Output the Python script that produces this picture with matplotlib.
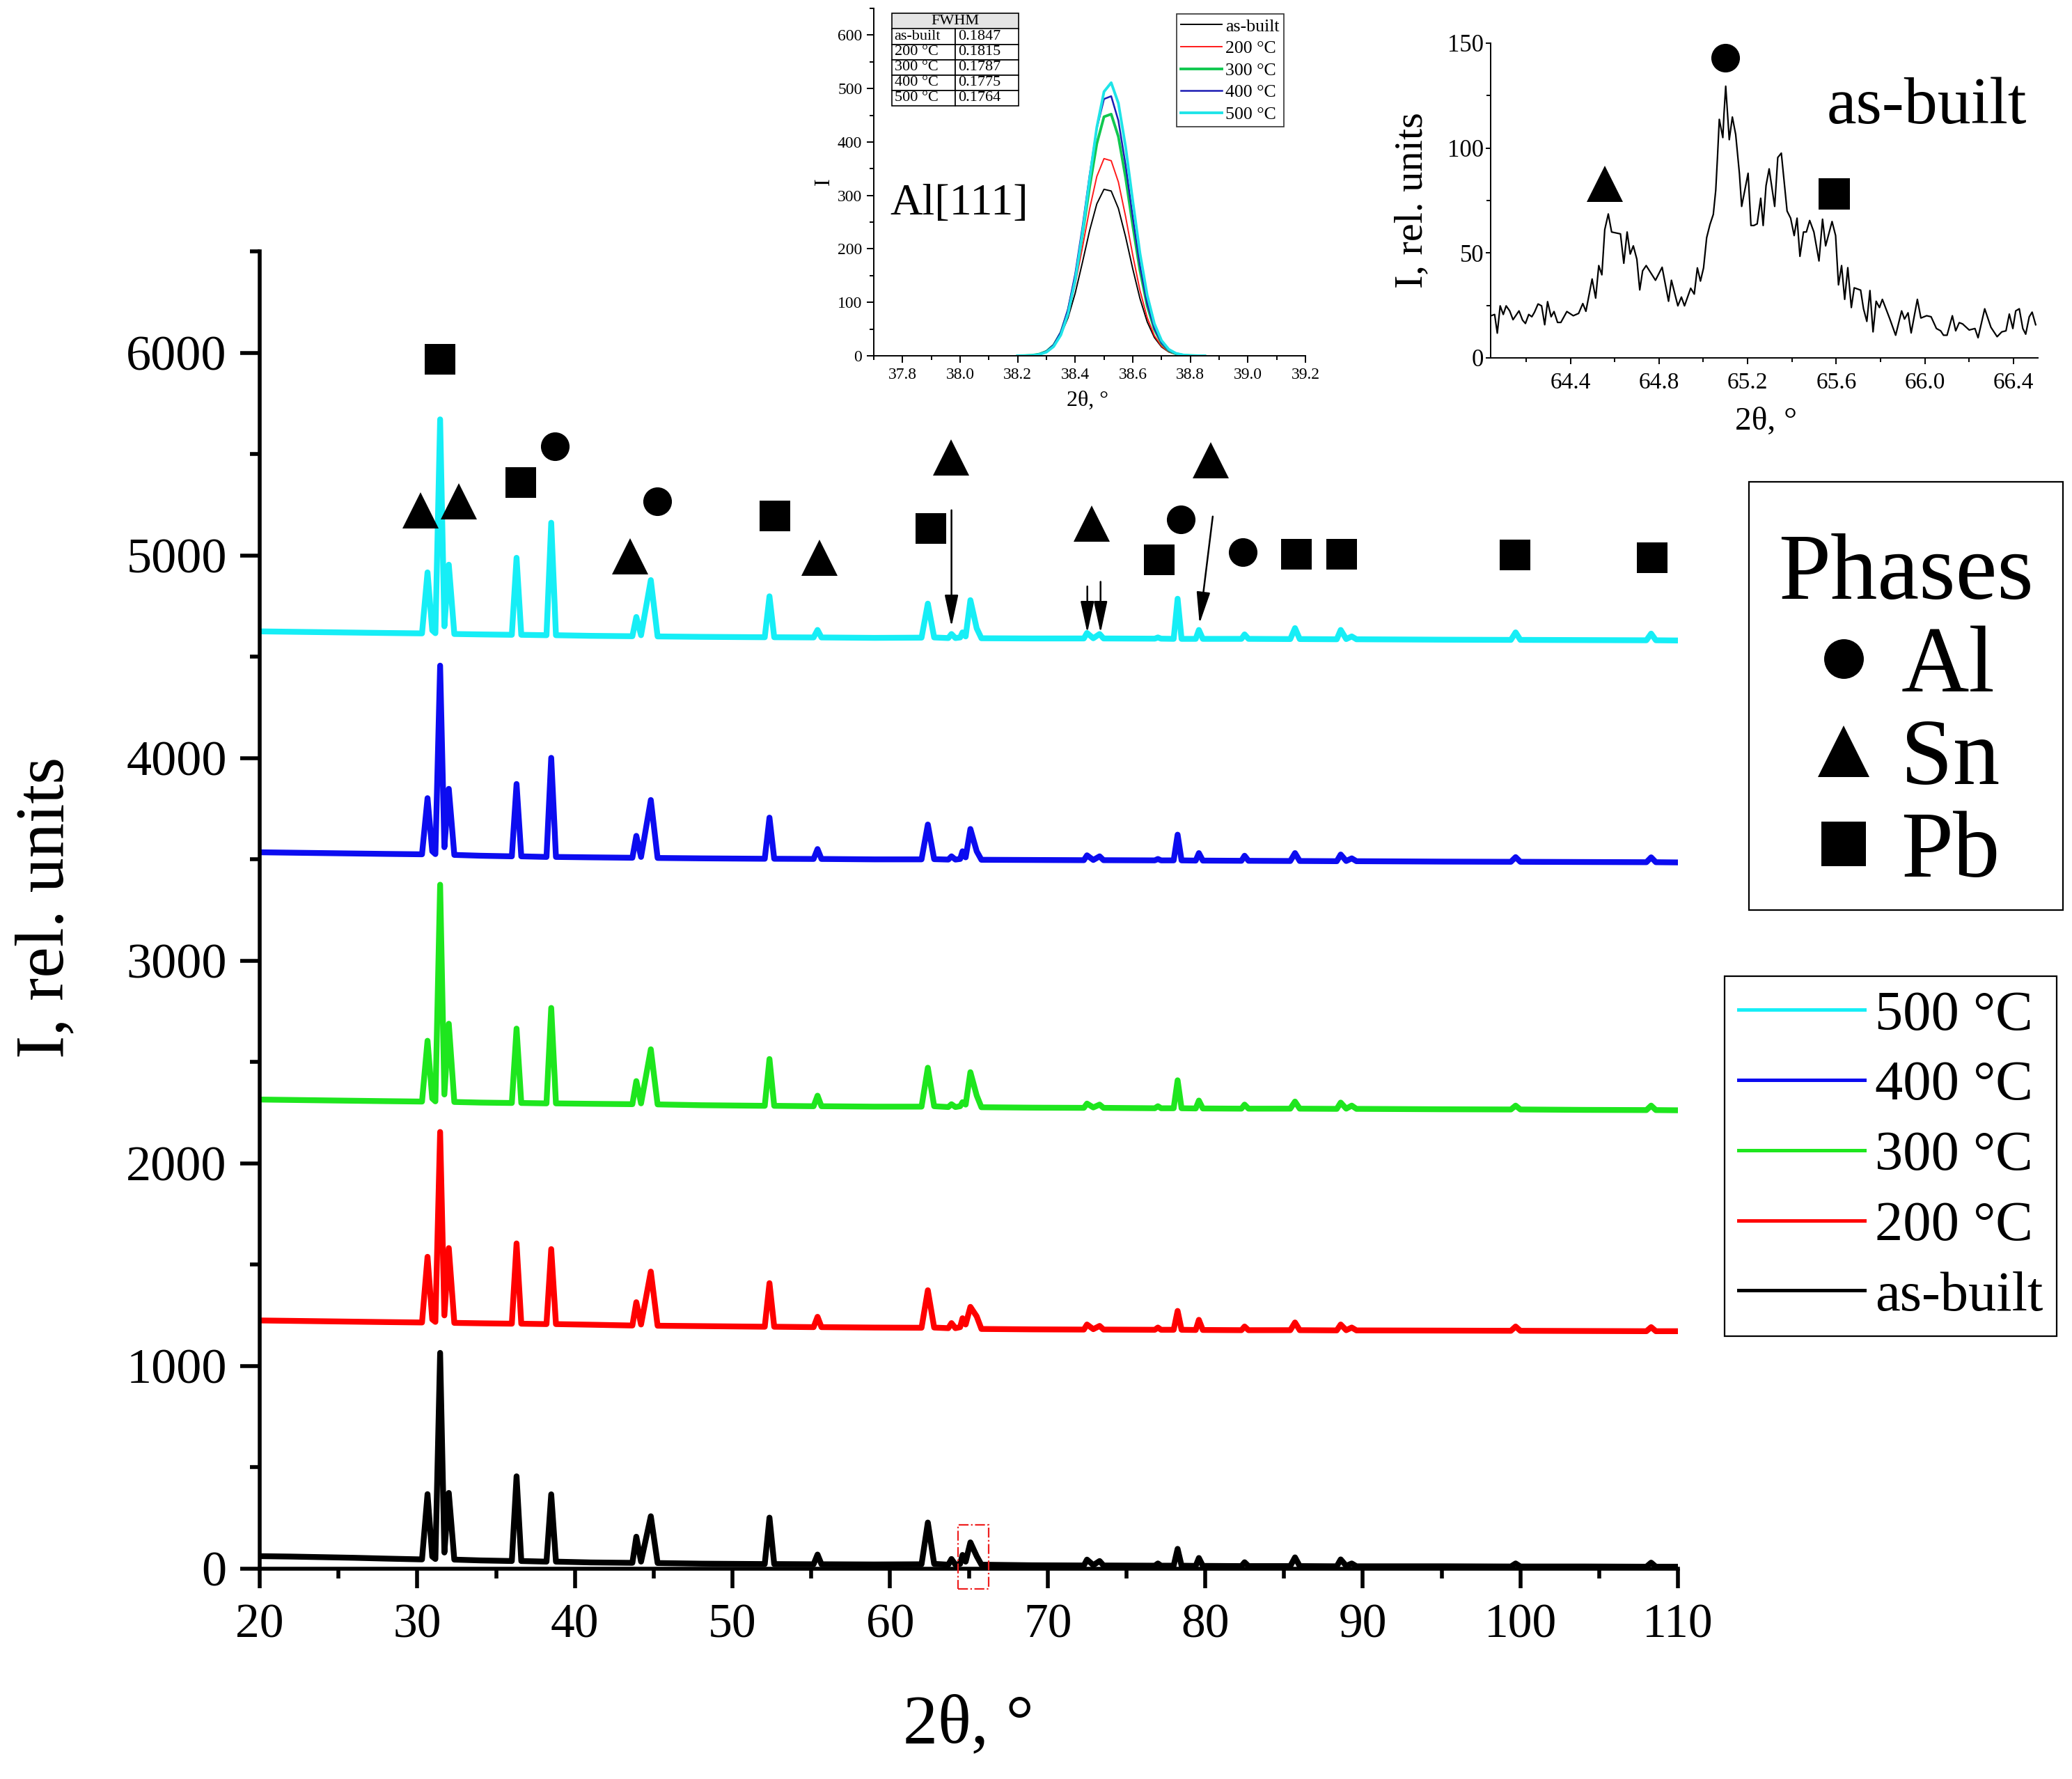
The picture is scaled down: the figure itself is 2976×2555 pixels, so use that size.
import matplotlib
matplotlib.use("Agg")
import matplotlib.pyplot as plt
from matplotlib.lines import Line2D
from matplotlib.patches import Rectangle
from matplotlib.ticker import MultipleLocator

plt.rcParams['font.family'] = ['Liberation Serif', 'DejaVu Serif']

# ---------------- main XRD patterns ----------------
two_theta = [20.0, 22.0, 24.0, 26.0, 28.0, 30.3, 30.65, 30.95, 31.15, 31.45,
             31.72, 32.0, 32.35, 34.0, 36.0, 36.3, 36.6, 38.2, 38.5, 38.8,
             41.0, 43.65, 43.9, 44.2, 44.82, 45.25, 48.0, 52.05, 52.35, 52.65,
             55.15, 55.4, 55.65, 59.0, 62.0, 62.4, 62.8, 63.7, 63.9, 64.15,
             64.45, 64.6, 64.8, 65.1, 65.5, 65.8, 69.0, 72.3, 72.5, 72.9,
             73.3, 73.55, 76.8, 77.0, 77.2, 78.0, 78.25, 78.5, 79.4, 79.6,
             79.85, 82.3, 82.5, 82.75, 85.4, 85.7, 86.0, 88.35, 88.6, 88.95,
             89.3, 89.6, 95.0, 99.4, 99.7, 100.0, 104.0, 108.0, 108.3, 108.6,
             110.0]
i_as_built = [62, 60, 57, 54, 50, 46, 368, 60, 48, 1065,
              80, 374, 45, 41, 38, 456, 38, 35, 367, 35,
              31, 29, 158, 35, 259, 28, 25, 23, 252, 23,
              22, 70, 22, 21, 22, 228, 24, 20, 48, 20,
              24, 68, 35, 130, 62, 20, 17, 16, 45, 18,
              38, 16, 15, 26, 15, 15, 98, 15, 14, 53,
              14, 13, 32, 13, 13, 56, 13, 12, 46, 14,
              26, 12, 12, 11, 26, 11, 11, 10, 30, 10,
              10]
i_200 = [1225, 1223, 1221, 1219, 1217, 1215, 1539, 1230, 1218, 2155,
         1250, 1582, 1213, 1211, 1209, 1605, 1209, 1207, 1577, 1207,
         1204, 1200, 1315, 1205, 1466, 1199, 1197, 1194, 1409, 1194,
         1192, 1243, 1192, 1190, 1189, 1374, 1190, 1187, 1212, 1187,
         1192, 1236, 1205, 1292, 1245, 1183, 1181, 1180, 1205, 1182,
         1198, 1180, 1179, 1190, 1179, 1179, 1272, 1179, 1178, 1228,
         1178, 1177, 1195, 1177, 1177, 1215, 1177, 1176, 1205, 1177,
         1190, 1176, 1175, 1174, 1195, 1174, 1173, 1172, 1192, 1172,
         1172]
i_300 = [2315, 2313, 2311, 2309, 2307, 2305, 2605, 2320, 2306, 3375,
         2340, 2689, 2303, 2300, 2298, 2665, 2298, 2296, 2767, 2296,
         2294, 2292, 2406, 2296, 2563, 2291, 2287, 2284, 2515, 2284,
         2282, 2334, 2282, 2280, 2280, 2472, 2282, 2278, 2292, 2278,
         2282, 2302, 2290, 2450, 2335, 2277, 2275, 2274, 2295, 2276,
         2290, 2274, 2272, 2282, 2272, 2272, 2410, 2272, 2271, 2310,
         2271, 2270, 2290, 2270, 2270, 2305, 2270, 2269, 2300, 2270,
         2285, 2269, 2267, 2266, 2285, 2266, 2264, 2263, 2285, 2263,
         2262]
i_400 = [3535, 3533, 3531, 3529, 3527, 3525, 3802, 3540, 3526, 4456,
         3560, 3848, 3522, 3518, 3515, 3872, 3515, 3512, 4001, 3512,
         3510, 3508, 3616, 3512, 3793, 3507, 3505, 3503, 3706, 3503,
         3502, 3551, 3502, 3500, 3500, 3672, 3501, 3499, 3515, 3499,
         3502, 3540, 3510, 3650, 3540, 3498, 3497, 3496, 3520, 3497,
         3515, 3496, 3495, 3502, 3495, 3495, 3622, 3495, 3494, 3531,
         3494, 3493, 3518, 3493, 3492, 3531, 3492, 3491, 3524, 3492,
         3505, 3491, 3489, 3488, 3511, 3488, 3487, 3486, 3510, 3486,
         3485]
i_500 = [4625, 4623, 4621, 4619, 4617, 4615, 4916, 4630, 4616, 5671,
         4650, 4954, 4612, 4610, 4608, 4988, 4608, 4606, 5161, 4606,
         4603, 4601, 4696, 4606, 4878, 4600, 4598, 4596, 4798, 4596,
         4595, 4632, 4595, 4593, 4594, 4762, 4595, 4592, 4612, 4592,
         4595, 4620, 4600, 4779, 4640, 4591, 4590, 4590, 4617, 4591,
         4612, 4590, 4589, 4595, 4589, 4588, 4786, 4588, 4588, 4632,
         4588, 4588, 4610, 4588, 4587, 4641, 4587, 4586, 4632, 4587,
         4600, 4586, 4584, 4583, 4620, 4583, 4582, 4581, 4614, 4581,
         4580]
series_labels = ["as-built", "200 °C", "300 °C", "400 °C", "500 °C"]
series_colors = ["#000000", "#ff0000", "#1ee61e", "#0c0cf0", "#16eef6"]

# phase markers (main panel)
al_x = [38.72, 45.24, 78.47, 82.38]
al_y = [5538, 5266, 5177, 5016]
sn_x = [30.21, 32.64, 43.51, 55.53, 63.88, 72.80, 80.37]
sn_y = [5222, 5267, 4995, 4990, 5484, 5155, 5469]
pb_x = [31.45, 36.57, 52.71, 62.57, 77.10, 85.80, 88.66, 99.65, 108.36]
pb_y = [5966, 5361, 5194, 5134, 4977, 5007, 5007, 5002, 4990]

# arrows pointing to weak peaks
arrow_tail_x = [63.90, 72.52, 73.36, 80.48]
arrow_tail_y = [5223, 4847, 4870, 5192]
arrow_tip_x = [63.90, 72.52, 73.36, 79.64]
arrow_tip_y = [4648, 4617, 4617, 4663]

# zoomed region marker (dashed box)
zoom_box_x = [64.30, 66.25]
zoom_box_y = [-100, 215]

# ---------------- inset 1: Al[111] profiles ----------------
al111_theta = [38.200, 38.225, 38.250, 38.275, 38.300, 38.325, 38.350, 38.375, 38.400,
               38.425, 38.450, 38.475, 38.500, 38.525, 38.550, 38.575, 38.600, 38.625,
               38.650, 38.675, 38.700, 38.725, 38.750, 38.775, 38.800, 38.825, 38.850]
al111_as_built = [0.1, 0.4, 1.3, 3.5, 8.7, 19.4, 39.2, 71.3, 117.3, 174.5, 234.3, 284.2, 311.5,
                  308.3, 275.7, 222.7, 162.5, 107.1, 63.7, 34.3, 16.6, 7.3, 2.9, 1.0, 0.3, 0.1, 0.0]
al111_200 = [0.1, 0.4, 1.3, 3.6, 9.1, 20.9, 43.1, 80.2, 134.4, 202.5, 274.8, 335.5, 368.9,
             365.0, 325.1, 260.7, 188.1, 122.2, 71.5, 37.6, 17.8, 7.6, 2.9, 1.0, 0.3, 0.1, 0.0]
al111_300 = [0.1, 0.3, 1.0, 3.1, 8.2, 19.9, 42.9, 83.1, 144.6, 225.7, 316.0, 396.9, 447.2,
             452.1, 410.0, 333.6, 243.5, 159.5, 93.7, 49.4, 23.3, 9.9, 3.8, 1.3, 0.4, 0.1, 0.0]
al111_400 = [0.1, 0.3, 1.0, 3.1, 8.4, 20.4, 44.6, 87.3, 153.0, 240.2, 337.9, 425.7, 480.4,
             485.7, 439.9, 357.0, 259.5, 168.9, 98.5, 51.5, 24.1, 10.1, 3.8, 1.3, 0.4, 0.1, 0.0]
al111_500 = [0.1, 0.2, 0.8, 2.4, 6.9, 17.3, 39.0, 78.7, 141.9, 229.1, 330.9, 427.5, 494.1,
             510.9, 472.5, 391.1, 289.5, 191.7, 113.6, 60.2, 28.5, 12.1, 4.6, 1.6, 0.5, 0.1, 0.0]
al111_colors = ["#000000", "#ff1a1a", "#10c850", "#1c1cb4", "#1ee4e8"]
al111_widths = [0.7, 0.7, 1.4, 0.9, 1.4]
fwhm_labels = ["as-built", "200 °C", "300 °C", "400 °C", "500 °C"]
fwhm_values = ["0.1847", "0.1815", "0.1787", "0.1775", "0.1764"]

# ---------------- inset 2: as-built, 64-66.5 deg ----------------
scan_theta = [64.042, 64.058, 64.070, 64.083, 64.097, 64.110, 64.126, 64.141, 64.168, 64.184,
              64.197, 64.212, 64.226, 64.238, 64.254, 64.270, 64.284, 64.297, 64.313, 64.326,
              64.342, 64.357, 64.384, 64.413, 64.437, 64.456, 64.470, 64.498, 64.514, 64.528,
              64.542, 64.555, 64.571, 64.586, 64.626, 64.641, 64.656, 64.670, 64.684, 64.700,
              64.713, 64.726, 64.742, 64.784, 64.814, 64.843, 64.856, 64.885, 64.901, 64.915,
              64.943, 64.959, 64.973, 64.987, 65.001, 65.015, 65.030, 65.045, 65.056, 65.064,
              65.072, 65.088, 65.093, 65.101, 65.117, 65.131, 65.146, 65.163, 65.173, 65.202,
              65.215, 65.228, 65.243, 65.259, 65.270, 65.283, 65.297, 65.322, 65.336, 65.352,
              65.378, 65.394, 65.410, 65.423, 65.436, 65.452, 65.465, 65.480, 65.499, 65.522,
              65.538, 65.552, 65.581, 65.597, 65.610, 65.624, 65.638, 65.652, 65.668, 65.681,
              65.710, 65.723, 65.738, 65.752, 65.766, 65.780, 65.795, 65.808, 65.842, 65.868,
              65.895, 65.908, 65.924, 65.938, 65.966, 65.982, 66.008, 66.028, 66.052, 66.071,
              66.084, 66.100, 66.124, 66.139, 66.155, 66.170, 66.200, 66.226, 66.240, 66.270,
              66.298, 66.326, 66.347, 66.366, 66.381, 66.397, 66.410, 66.426, 66.442, 66.455,
              66.471, 66.484, 66.500]
scan_counts = [20.1, 20.7, 11.8, 24.8, 20.7, 24.8, 22.4, 18.2, 22.4, 18.0,
               16.4, 20.7, 19.6, 21.8, 25.7, 24.8, 15.8, 26.8, 19.6, 22.1,
               16.9, 16.9, 22.1, 20.1, 21.2, 25.9, 22.2, 37.6, 28.5, 44.0,
               39.6, 61.1, 68.6, 60.0, 59.1, 45.1, 60.0, 49.5, 53.4, 47.0,
               32.4, 41.5, 44.0, 37.0, 43.2, 27.0, 37.0, 24.8, 29.0, 24.8,
               33.2, 30.4, 42.9, 36.6, 42.9, 57.3, 63.6, 68.4, 79.9, 96.0,
               113.7, 105.0, 115.9, 129.5, 104.0, 114.8, 106.5, 87.7, 72.2, 88.0,
               63.1, 63.1, 63.9, 76.1, 63.1, 82.1, 90.1, 72.2, 95.5, 97.6,
               70.0, 66.6, 58.3, 66.6, 48.4, 60.0, 60.0, 65.5, 60.0, 46.2,
               66.1, 53.4, 65.0, 58.3, 34.8, 44.0, 27.9, 43.0, 24.0, 33.4,
               32.3, 23.4, 17.4, 32.1, 12.4, 27.0, 24.0, 27.9, 18.5, 10.8,
               22.4, 18.5, 21.5, 11.9, 27.9, 19.0, 20.1, 19.6, 14.0, 12.9,
               10.8, 10.8, 20.1, 12.9, 16.8, 16.2, 13.3, 14.0, 9.6, 23.4,
               14.6, 10.1, 12.4, 12.9, 20.9, 14.0, 22.4, 23.4, 14.0, 11.3,
               19.6, 21.8, 15.8]
scan_sn = (64.554, 83.0)
scan_al = (65.099, 143.1)
scan_pb = (65.590, 78.4)

for s in (i_as_built, i_200, i_300, i_400, i_500):
    assert len(s) == len(two_theta)
assert len(scan_theta) == len(scan_counts)

# ---------------- figure ----------------
W, H, DPI = 2976, 2555, 200
fig = plt.figure(figsize=(W / DPI, H / DPI), dpi=DPI)


def fx(px):
    return px / W


def fy(py):
    return 1 - py / H


# main axes
ax = fig.add_axes([fx(373), fy(2253), (2410 - 373) / W, (2253 - 361) / H])
for y, col in zip([i_as_built, i_200, i_300, i_400, i_500], series_colors):
    ax.plot(two_theta, y, color=col, lw=3.0, solid_joinstyle='round')
ax.set_xlim(20, 110)
ax.set_ylim(0, 6500)
ax.xaxis.set_major_locator(MultipleLocator(10))
ax.xaxis.set_minor_locator(MultipleLocator(5))
ax.yaxis.set_major_locator(MultipleLocator(1000))
ax.yaxis.set_minor_locator(MultipleLocator(500))
for sp in ('top', 'right'):
    ax.spines[sp].set_visible(False)
for sp in ('left', 'bottom'):
    ax.spines[sp].set_linewidth(2.0)
ax.tick_params(which='major', direction='out', length=10, width=2.0, pad=7)
ax.tick_params(which='minor', direction='out', length=5, width=2.0)
ax.tick_params(axis='x', labelsize=25, pad=8)
ax.tick_params(axis='y', labelsize=26)

mk = dict(ls='none', color='k', mew=0)
ax.plot(al_x, al_y, marker='o', ms=14.8, **mk)
ax.plot(sn_x, sn_y, marker='^', ms=18.4, **mk)
ax.plot(pb_x, pb_y, marker='s', ms=15.8, **mk)

for tx, ty, hx, hy in zip(arrow_tail_x, arrow_tail_y, arrow_tip_x, arrow_tip_y):
    ax.annotate('', xy=(hx, hy), xytext=(tx, ty),
                arrowprops=dict(arrowstyle='-|>,head_length=1.4,head_width=0.3',
                                color='k', lw=0.9, shrinkA=0, shrinkB=0,
                                mutation_scale=10))

ax.add_patch(Rectangle((zoom_box_x[0], zoom_box_y[0]), zoom_box_x[1] - zoom_box_x[0],
                       zoom_box_y[1] - zoom_box_y[0], fill=False, ec='#ee2020',
                       ls='-.', lw=0.8, clip_on=False, zorder=5))

fig.text(fx(66), fy(1303), 'I, rel. units', rotation=90, ha='center', va='center', size=36)
fig.text(fx(1391), fy(2502), '2θ, °', ha='center', va='baseline', size=36)

handles = [Line2D([], [], color=c, lw=1.8) for c in series_colors]
leg = ax.legend(handles[::-1], series_labels[::-1], loc='upper left',
                bbox_to_anchor=(fx(2477), fy(1402)), bbox_transform=fig.transFigure,
                fontsize=29, handlelength=2.25, handletextpad=0.18, borderpad=0.25,
                labelspacing=0.34, borderaxespad=0, frameon=True, fancybox=False,
                edgecolor='k', framealpha=1)
leg.get_frame().set_linewidth(0.8)

# phase legend (frame drawn separately so the box matches the original size)
phase_handles = [Line2D([], [], ls='none', marker='o', ms=20.5, color='k', mew=0),
                 Line2D([], [], ls='none', marker='^', ms=26.6, color='k', mew=0),
                 Line2D([], [], ls='none', marker='s', ms=23, color='k', mew=0)]
pleg = fig.legend(phase_handles, ['Al', 'Sn', 'Pb'], title='Phases',
                  loc='upper left', mode='expand',
                  bbox_to_anchor=(fx(2512), fy(1307), (2963 - 2512) / W, (1307 - 736) / H),
                  bbox_transform=fig.transFigure, fontsize=48.5, title_fontsize=48.5,
                  handlelength=1.58, handletextpad=-0.18, borderpad=0.22,
                  labelspacing=0.07, borderaxespad=0, frameon=False)
fig.add_artist(Rectangle((fx(2512), fy(1307)), (2963 - 2512) / W, (1307 - 692) / H,
                         transform=fig.transFigure, fill=False, ec='k', lw=0.8))

# inset 1
ax1 = fig.add_axes([fx(1255), fy(511), (1875 - 1255) / W, (511 - 12) / H])
for y, col, lw in zip([al111_as_built, al111_200, al111_300, al111_400, al111_500],
                      al111_colors, al111_widths):
    ax1.plot(al111_theta, y, color=col, lw=lw)
ax1.set_xlim(37.7, 39.2)
ax1.set_ylim(0, 650)
ax1.xaxis.set_major_locator(MultipleLocator(0.2))
ax1.xaxis.set_minor_locator(MultipleLocator(0.1))
ax1.yaxis.set_major_locator(MultipleLocator(100))
ax1.yaxis.set_minor_locator(MultipleLocator(50))
for sp in ('top', 'right'):
    ax1.spines[sp].set_visible(False)
for sp in ('left', 'bottom'):
    ax1.spines[sp].set_linewidth(0.7)
ax1.tick_params(which='major', direction='out', length=3.5, width=0.7, labelsize=8.5, pad=2.5)
ax1.tick_params(which='minor', direction='out', length=2, width=0.7)
ax1.set_facecolor('none')
h1 = [Line2D([], [], color=c, lw=lw) for c, lw in zip(al111_colors, al111_widths)]
l1 = ax1.legend(h1, series_labels, loc='upper left', bbox_to_anchor=(fx(1690), fy(20)),
                bbox_transform=fig.transFigure, fontsize=9.3, handlelength=2.27,
                handletextpad=0.2, borderpad=0.25, labelspacing=0.33, borderaxespad=0,
                frameon=True, fancybox=False, edgecolor='#333333', framealpha=1)
l1.get_frame().set_linewidth(0.6)

tx0 = (1281 - 1255) / 620
tw = (1463 - 1281) / 620
hdr = ax1.table(cellText=[['FWHM']], cellLoc='center',
                bbox=[tx0, (511 - 41.5) / 499, tw, (41.5 - 18.6) / 499])
body = ax1.table(cellText=[[a, b] for a, b in zip(fwhm_labels, fwhm_values)], cellLoc='left',
                 bbox=[tx0, (511 - 152) / 499, tw, (152 - 41.5) / 499])
for t in (hdr, body):
    t.auto_set_font_size(False)
    t.set_fontsize(8)
    for (r, c), cell in t.get_celld().items():
        cell.set_linewidth(0.6)
        cell.set_edgecolor('k')
        cell.PAD = 0.04
        if t is hdr:
            cell.set_facecolor('#e4e4e4')
        if t is body and c == 1:
            cell._loc = 'right'

fig.text(fx(1278), fy(308), 'Al[111]', ha='left', va='baseline', size=23.2)
fig.text(fx(1183), fy(261), 'I', rotation=90, ha='center', va='center', size=11.5)
fig.text(fx(1562), fy(583), '2θ, °', ha='center', va='baseline', size=11.5)

# inset 2
ax2 = fig.add_axes([fx(2141), fy(514), (2927 - 2141) / W, (514 - 62) / H])
ax2.plot(scan_theta, scan_counts, color='k', lw=0.8)
ax2.plot([scan_sn[0]], [scan_sn[1]], marker='^', ms=18.6, **mk)
ax2.plot([scan_al[0]], [scan_al[1]], marker='o', ms=14.8, clip_on=False, **mk)
ax2.plot([scan_pb[0]], [scan_pb[1]], marker='s', ms=16.2, **mk)
ax2.set_xlim(64.04, 66.51)
ax2.set_ylim(0, 150)
ax2.xaxis.set_major_locator(MultipleLocator(0.4))
ax2.xaxis.set_minor_locator(MultipleLocator(0.2))
ax2.yaxis.set_major_locator(MultipleLocator(50))
ax2.yaxis.set_minor_locator(MultipleLocator(25))
for sp in ('top', 'right'):
    ax2.spines[sp].set_visible(False)
for sp in ('left', 'bottom'):
    ax2.spines[sp].set_linewidth(0.7)
ax2.tick_params(axis='x', which='major', direction='out', length=3.2, width=0.7, labelsize=12, pad=4)
ax2.tick_params(axis='y', which='major', direction='out', length=2.5, width=0.7, labelsize=12.5, pad=1)
ax2.tick_params(which='minor', direction='out', length=2, width=0.7)
ax2.set_facecolor('none')

fig.text(fx(2624), fy(177), 'as-built', ha='left', va='baseline', size=34.5)
fig.text(fx(2028), fy(288), 'I, rel. units', rotation=90, ha='center', va='center', size=21)
fig.text(fx(2537), fy(617), '2θ, °', ha='center', va='baseline', size=17)

fig.savefig('out.png', dpi=DPI)
